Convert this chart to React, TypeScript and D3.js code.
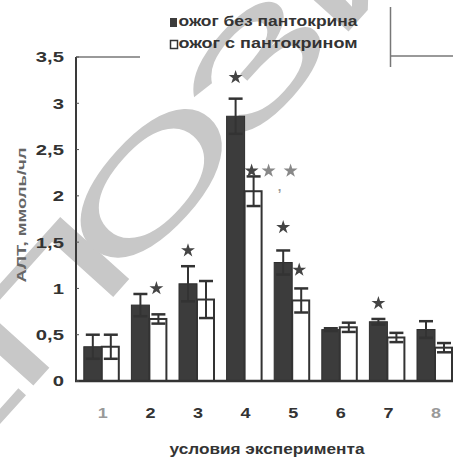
import React from "react";
import * as d3 from "d3";

const categories = ["1", "2", "3", "4", "5", "6", "7", "8"];
const burnNoPantocrine = [0.37, 0.82, 1.05, 2.86, 1.28, 0.555, 0.64, 0.556];
const burnNoPantocrineErr = [0.13, 0.12, 0.19, 0.19, 0.13, 0.015, 0.03, 0.09];
const burnPantocrine = [0.37, 0.67, 0.88, 2.05, 0.87, 0.58, 0.47, 0.36];
const burnPantocrineErr = [0.13, 0.05, 0.2, 0.16, 0.13, 0.05, 0.05, 0.05];
// star annotation levels (value units), null = no star
const starDark = [null, null, 1.41, 3.28, 1.66, null, 0.84, null];
const starWhite = [null, 1.0, null, 2.27, 1.2, null, null, null];
const yTicks = [0, 0.5, 1, 1.5, 2, 2.5, 3, 3.5];
const yTickLabels = ["0", "0,5", "1", "1,5", "2", "2,5", "3", "3,5"];
const legendLabels = ["ожог без пантокрина", "ожог с пантокрином"];
const xTitle = "условия эксперимента";
const yTitle = "АЛТ, ммоль/чл";
const watermarkLetters = ["Е", "П", "О", "З", "И"];

const W = 453;
const H = 461;
const FONT = "'Liberation Sans', Arial, sans-serif";
const TXT = "#333";
const DARK = "#3c3c3c";

export default function App() {
  const y = d3.scaleLinear().domain([0, 3.5]).range([381, 57]);
  const x = d3.scaleBand<string>().domain(categories).range([78, 458.8]).padding(0);
  const center = (c: string) => (x(c) as number) + x.bandwidth() / 2;
  const sub = d3.scaleBand<string>().domain(["dark", "white"]).range([-18, 18]).padding(0);
  const bw = sub.bandwidth();
  const star = d3.symbol(d3.symbolStar, 60)() as string;
  const capW = 14;

  const errBar = (cx: number, v: number, e: number, key: string) => (
    <g key={key} stroke="#333" strokeWidth={2}>
      <line x1={cx} x2={cx} y1={y(v - e)} y2={y(v + e)} />
      <line x1={cx - capW / 2} x2={cx + capW / 2} y1={y(v + e)} y2={y(v + e)} strokeWidth={2.5} />
      <line x1={cx - capW / 2} x2={cx + capW / 2} y1={y(v - e)} y2={y(v - e)} strokeWidth={2.5} />
    </g>
  );

  // watermark letters placed along a diagonal line
  const wmStep = [105, -118];
  const wmOrigin = [150, 182];

  return (
    <svg width={W} height={H} style={{ position: "absolute", left: 0, top: 0, background: "#fff" }}>
      <rect width={W} height={H} fill="#fff" />
      {/* watermark */}
      <g fill="#c8c8c8" fontFamily={FONT} fontSize={135}>
        {watermarkLetters.map((l, i) => {
          const k = i - 2;
          const cx = wmOrigin[0] + wmStep[0] * k;
          const cy = wmOrigin[1] + wmStep[1] * k;
          return (
            <text key={l} transform={`translate(${cx},${cy}) rotate(-48) scale(1.9,1)`} textAnchor="middle" dy="0.36em">
              {l}
            </text>
          );
        })}
      </g>

      {/* frame fragments */}
      <g stroke="#777" strokeWidth={1.5}>
        <line x1={76} x2={140} y1={y(3.5)} y2={y(3.5)} />
        <line x1={390.5} x2={390.5} y1={7} y2={67} />
        <line x1={390.5} x2={453} y1={56} y2={56} />
      </g>

      {/* bars */}
      {categories.map((c, i) => (
        <rect
          key={"d" + c}
          x={center(c) + (sub("dark") as number)}
          y={y(burnNoPantocrine[i])}
          width={bw}
          height={y(0) - y(burnNoPantocrine[i])}
          fill={DARK}
          stroke="#2e2e2e"
          strokeWidth={1}
        />
      ))}
      {categories.map((c, i) => (
        <rect
          key={"w" + c}
          x={center(c) + (sub("white") as number)}
          y={y(burnPantocrine[i])}
          width={bw - 1}
          height={y(0) - y(burnPantocrine[i])}
          fill="#fff"
          stroke="#333"
          strokeWidth={2}
        />
      ))}
      {categories.map((c, i) =>
        errBar(center(c) + (sub("dark") as number) + bw / 2, burnNoPantocrine[i], burnNoPantocrineErr[i], "ed" + c)
      )}
      {categories.map((c, i) =>
        errBar(center(c) + (sub("white") as number) + bw / 2, burnPantocrine[i], burnPantocrineErr[i], "ew" + c)
      )}

      {/* stars */}
      <g fill="#444">
        {categories.map((c, i) =>
          starDark[i] == null ? null : (
            <path key={"sd" + c} d={star} transform={`translate(${center(c) + (sub("dark") as number) + bw / 2},${y(starDark[i] as number)})`} />
          )
        )}
        {categories.map((c, i) =>
          starWhite[i] == null ? null : (
            <path key={"sw" + c} d={star} transform={`translate(${center(c) + (sub("white") as number) + bw / 2 - 2},${y(starWhite[i] as number)})`} />
          )
        )}
        {/* extra significance marks for group 4 */}
        <path d={star} fill="#888" transform={`translate(${center("4") + 24},${y(starWhite[3] as number)})`} />
        <path d={star} fill="#888" transform={`translate(${center("4") + 46},${y(starWhite[3] as number)})`} />
        <text x={center("4") + 35} y={y(starWhite[3] as number) + 20} fontFamily={FONT} fontWeight="bold" fontSize={13} fill="#999" textAnchor="middle">,</text>
      </g>

      {/* axes */}
      <line x1={76} x2={76} y1={y(3.5)} y2={y(0) + 1} stroke="#3a3a3a" strokeWidth={2} />
      <line x1={75} x2={453} y1={y(0)} y2={y(0)} stroke="#333" strokeWidth={2.5} />
      {yTicks.map((t, i) => (
        <g key={"yt" + t}>
          <line x1={76} x2={79} y1={y(t)} y2={y(t)} stroke="#555" strokeWidth={1} />
          <text
            transform={`translate(64,${y(t)}) scale(1.35,1)`}
            textAnchor="end"
            dy="0.36em"
            fontFamily={FONT}
            fontWeight="bold"
            fontSize={15}
            fill={TXT}
          >
            {yTickLabels[i]}
          </text>
        </g>
      ))}
      {categories.map((c) => (
        <text
          key={"xt" + c}
          transform={`translate(${center(c) + 1},418) scale(1.2,1)`}
          textAnchor="middle"
          fontFamily={FONT}
          fontWeight="bold"
          fontSize={15}
          fill={c === "1" || c === "8" ? "#999" : TXT}
        >
          {c}
        </text>
      ))}

      {/* axis titles */}
      <text
        x={267}
        y={454}
        textAnchor="middle"
        fontFamily={FONT}
        fontWeight="bold"
        fontSize={14}
        textLength={195}
        lengthAdjust="spacingAndGlyphs"
        fill={TXT}
      >
        {xTitle}
      </text>
      <text
        transform={`translate(26,215) rotate(-90)`}
        textAnchor="middle"
        fontFamily={FONT}
        fontWeight="bold"
        fontSize={13}
        textLength={135}
        lengthAdjust="spacingAndGlyphs"
        fill="#666"
      >
        {yTitle}
      </text>

      {/* legend */}
      <rect x={170} y={18} width={7} height={9} fill={DARK} />
      <rect x={170.5} y={40.5} width={7} height={8} fill="#fff" stroke="#333" strokeWidth={1.5} />
      {legendLabels.map((l, i) => (
        <text
          key={l}
          x={178.5}
          y={26 + i * 22}
          fontFamily={FONT}
          fontWeight="bold"
          fontSize={14}
          textLength={179}
          lengthAdjust="spacingAndGlyphs"
          fill={TXT}
        >
          {l}
        </text>
      ))}
    </svg>
  );
}
